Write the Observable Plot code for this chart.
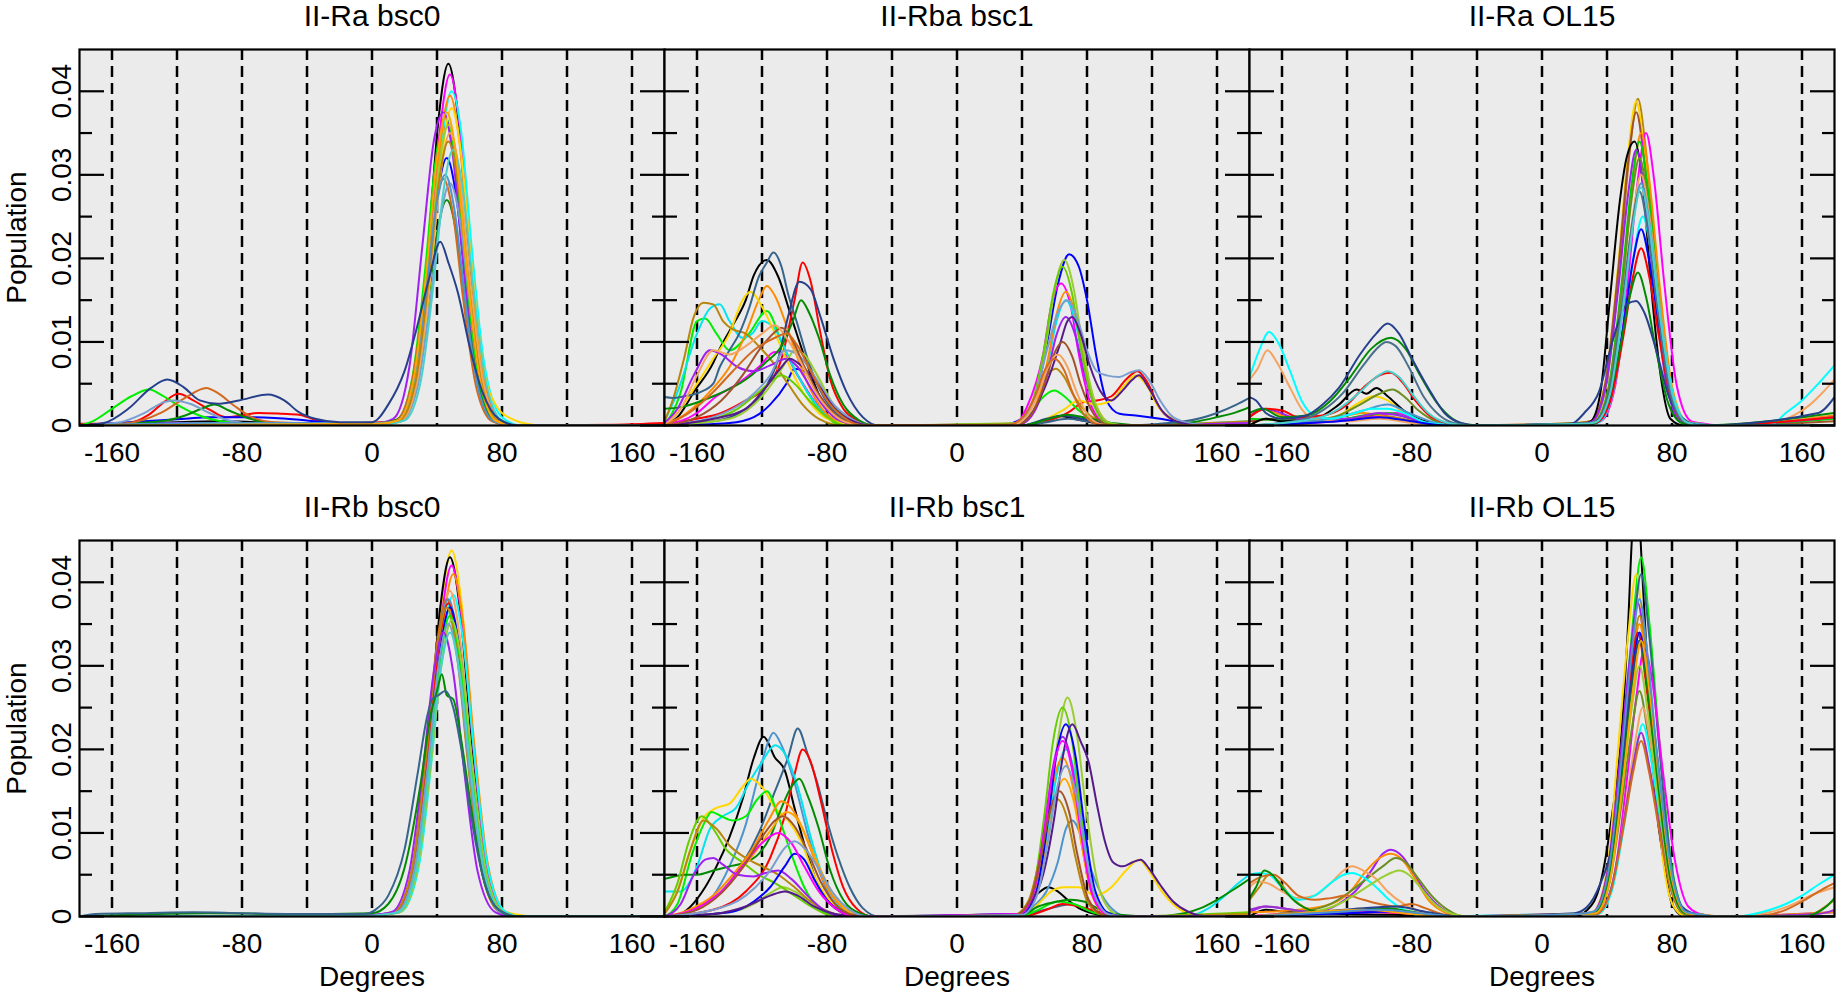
<!DOCTYPE html>
<html>
<head>
<meta charset="utf-8">
<script src="https://cdn.jsdelivr.net/npm/d3@7"></script>
<script src="https://cdn.jsdelivr.net/npm/@observablehq/plot@0.6"></script>
<style>
  html, body { margin: 0; padding: 0; background: #fff; }
  #chart { position: relative; width: 1837px; height: 996px; overflow: hidden; }
  #chart svg { position: absolute; overflow: visible; }
</style>
</head>
<body>
<div id="chart"></div>
<script>
// ---------- axis values ----------
const gridDeg = [-160, -120, -80, -40, 0, 40, 80, 120, 160];
const xTickLabels = [-160, -80, 0, 80, 160];
const yMajor = [0, 0.01, 0.02, 0.03, 0.04];
const yMinor = [0.005, 0.015, 0.025, 0.035];
const titles = ["II-Ra bsc0", "II-Rba bsc1", "II-Ra OL15", "II-Rb bsc0", "II-Rb bsc1", "II-Rb OL15"];

// ---------- series colours (style, kept apart from values) ----------
const raBsc0Colors = ["#000000","#ff0000","#0000ff","#00ee00","#ff00ff","#00ffff","#ff8c00","#a020f0","#008b00","#ffd700","#d2691e","#7a9fcf","#9acd32","#f4a460","#b8860b","#4f94cd","#48d1cc","#ffa500","#27408b"];
const rbaBsc1Colors = ["#000000","#ff0000","#0000ff","#00ee00","#ff00ff","#00e5ee","#ff8c00","#ffd700","#b8860b","#36648b","#27408b","#008b00","#a020f0","#9acd32","#66cd00","#7a9fcf","#551a8b","#a0522d","#f4a460","#d2691e"];
const raOL15Colors = ["#b8860b","#ffd700","#a0522d","#ff00ff","#ff8c00","#00cd00","#000000","#a020f0","#6b8e23","#f4a460","#4f94cd","#00ffff","#0000ff","#ff0000","#008b00","#27408b","#4a708b","#48d1cc"];
const rbBsc0Colors = ["#ffd700","#000000","#ff00ff","#ff8c00","#00ffff","#f4a460","#d2691e","#4f94cd","#ff0000","#0000ff","#b8860b","#00ee00","#9acd32","#7a9fcf","#a020f0","#48d1cc","#008b00","#36648b"];
const rbBsc1Colors = ["#000000","#4f94cd","#36648b","#ff0000","#00e5ee","#ffd700","#00ee00","#008b00","#9acd32","#66cd00","#b8860b","#ff8c00","#ffa500","#a020f0","#0000ff","#551a8b","#ff00ff","#a0522d","#7a9fcf"];
const rbOL15Colors = ["#000000","#00ee00","#ffd700","#36648b","#a020f0","#b8860b","#ff8c00","#ff0000","#ff00ff","#0000ff","#6b8e23","#f4a460","#00ffff","#9932cc","#d2691e","#9acd32","#008b00","#27408b","#ffa500","#4f94cd"];

// ---------- values: [degrees, population] ----------
const raBsc0 = [
 [[-180,0],[-150,.0002],[-120,.0004],[-90,.0005],[-60,.0003],[-20,.0002],[5,.0003],[17,.0008],[27,.0069],[35,.0225],[41,.0368],[47,.0433],[53,.0368],[59,.0225],[67,.0069],[77,.0007],[90,0],[180,0]],
 [[-180,.0002],[-150,.0003],[-138,.0012],[-128,.0028],[-119,.0038],[-110,.003],[-100,.0019],[-90,.001],[-80,.0012],[-70,.0015],[-55,.0014],[-45,.0013],[-35,.0007],[-20,.0003],[5,.0004],[16,.0007],[26,.0058],[34,.0187],[40,.0306],[46,.036],[52,.0306],[58,.0187],[66,.0058],[76,.0006],[90,0],[150,.0001],[180,.0003]],
 [[-180,0],[-140,.0005],[-115,.0008],[-100,.001],[-80,.001],[-60,.0009],[-40,.0006],[-20,.0003],[5,.0003],[16,.0005],[26,.0051],[34,.0166],[40,.0272],[46,.032],[52,.0272],[58,.0166],[66,.0051],[76,.0005],[90,0],[180,0]],
 [[-180,0],[-172,.0005],[-160,.002],[-148,.0035],[-137,.0043],[-130,.0037],[-120,.0025],[-110,.0015],[-100,.0008],[-80,.0003],[-20,.0002],[5,.0003],[15,.0006],[25,.0059],[33,.0192],[39,.0315],[45,.037],[51,.0315],[57,.0192],[65,.0059],[75,.0006],[88,0],[180,0]],
 [[-180,0],[-100,.0002],[-20,.0002],[6,.0003],[18,.0007],[28,.0067],[36,.0218],[42,.0357],[48,.042],[54,.0357],[60,.0218],[68,.0067],[78,.0007],[90,0],[180,0]],
 [[-180,0],[-100,.0001],[10,.0002],[19,.0007],[29,.0064],[37,.0208],[43,.034],[49,.040],[55,.035],[61,.022],[69,.0075],[80,.001],[92,0],[180,0]],
 [[-180,0],[-110,.0002],[5,.0002],[18,.0007],[28,.0063],[36,.0205],[42,.0336],[48,.0395],[54,.0336],[60,.0205],[68,.0063],[78,.0007],[90,0],[180,0]],
 [[-180,0],[-120,.0003],[-60,.0002],[3,.0003],[13,.0008],[23,.007],[31,.0215],[38,.034],[44,.0375],[50,.0319],[56,.0195],[64,.006],[74,.0006],[86,0],[180,0]],
 [[-180,0],[-130,.0005],[-115,.0012],[-105,.002],[-97,.0025],[-88,.0018],[-75,.0008],[-60,.0003],[0,.0002],[14,.0006],[25,.0043],[34,.014],[40,.023],[46,.027],[52,.023],[58,.014],[66,.0043],[76,.0005],[88,0],[180,0]],
 [[-180,0],[-100,.0002],[10,.0002],[19,.0006],[29,.0061],[37,.0198],[43,.0323],[49,.038],[55,.0323],[61,.0198],[69,.0065],[76,.0025],[80,.0015],[86,.0008],[95,.0002],[105,0],[180,0]],
 [[-180,0],[-150,.0003],[-130,.0015],[-115,.0033],[-102,.0045],[-95,.0039],[-85,.0024],[-75,.0011],[-60,.0004],[-20,.0002],[4,.0003],[14,.0005],[24,.0047],[32,.0153],[38,.0251],[44,.0295],[50,.0251],[56,.0153],[64,.0047],[74,.0005],[86,0],[180,0]],
 [[-180,0],[-155,.0004],[-140,.0015],[-128,.0028],[-122,.003],[-112,.0026],[-100,.0015],[-88,.0006],[-70,.0002],[8,.0002],[18,.0005],[28,.0046],[36,.0151],[42,.0247],[48,.029],[54,.0247],[60,.0151],[68,.0046],[78,.0005],[90,0],[180,0]],
 [[-180,0],[5,.0002],[17,.0006],[27,.0058],[35,.0187],[41,.0306],[47,.036],[53,.0306],[59,.0187],[67,.0058],[77,.0006],[90,0],[180,0]],
 [[-180,0],[6,.0002],[18,.0006],[28,.0056],[36,.0182],[42,.0298],[48,.035],[54,.0298],[60,.0182],[68,.0056],[78,.0006],[90,0],[180,0]],
 [[-180,0],[5,.0002],[17,.0006],[27,.0054],[35,.0177],[41,.0289],[47,.034],[53,.0289],[59,.0177],[67,.0054],[77,.0006],[90,0],[180,0]],
 [[-180,0],[-100,.0003],[4,.0003],[15,.0005],[25,.0048],[33,.0156],[39,.0255],[45,.030],[51,.0255],[57,.0156],[65,.0048],[75,.0005],[88,0],[180,0]],
 [[-180,0],[8,.0002],[20,.0006],[30,.0053],[38,.0172],[44,.0281],[50,.033],[56,.0281],[62,.0172],[70,.0053],[80,.0006],[92,0],[180,0]],
 [[-180,0],[4,.0002],[16,.0006],[26,.006],[34,.0195],[40,.0319],[46,.0375],[52,.0319],[58,.0195],[66,.006],[76,.0006],[88,0],[180,0]],
 [[-180,0],[-165,.0003],[-150,.002],[-136,.0045],[-126,.0055],[-116,.0046],[-106,.003],[-95,.0026],[-82,.003],[-64,.0037],[-54,.003],[-45,.0016],[-35,.0008],[-20,.0004],[0,.0004],[10,.0025],[20,.0065],[28,.012],[35,.0175],[42,.022],[47,.0195],[53,.0158],[60,.0095],[68,.004],[78,.0008],[90,0],[180,0]]
];

const rbaBsc1 = [
 [[-180,.0002],[-172,.001],[-162,.004],[-150,.0075],[-146,.0092],[-138,.012],[-130,.015],[-125,.018],[-117,.0198],[-110,.0178],[-102,.013],[-92,.0072],[-82,.0025],[-72,.0006],[-60,0],[40,0],[55,.0006],[64,.0011],[72,.0008],[85,.0003],[100,0],[180,.0003]],
 [[-180,.0002],[-160,.0008],[-145,.0015],[-130,.003],[-118,.0045],[-108,.008],[-100,.015],[-95,.0195],[-90,.0172],[-84,.011],[-78,.0055],[-70,.002],[-60,.0005],[-50,0],[40,0],[55,.0005],[68,.0015],[78,.0028],[86,.003],[95,.0035],[104,.0055],[111,.0065],[117,.0052],[125,.002],[135,.0005],[150,0],[180,.0002]],
 [[-180,0],[-140,.0003],[-125,.001],[-115,.0025],[-105,.005],[-100,.0068],[-94,.0065],[-86,.004],[-75,.0012],[-60,0],[25,0],[38,.0006],[48,.0032],[56,.0105],[62,.0168],[69,.0205],[75,.019],[80,.015],[86,.008],[92,.003],[100,.0014],[110,.0012],[125,.0008],[140,.0003],[160,0],[180,0]],
 [[-180,0],[-170,.004],[-160,.0125],[-155,.0128],[-148,.011],[-140,.009],[-128,.011],[-117,.0137],[-108,.010],[-98,.006],[-85,.002],[-70,0],[35,0],[45,.0012],[52,.0032],[60,.0042],[66,.0035],[75,.0018],[85,.0005],[95,0],[180,0]],
 [[-180,0],[-160,.0015],[-148,.0035],[-135,.005],[-122,.007],[-112,.0088],[-106,.0085],[-98,.006],[-88,.003],[-78,.001],[-65,0],[36,.0002],[43,.0022],[53,.0085],[58,.0143],[64,.017],[70,.0143],[75,.0085],[83,.0022],[92,.0002],[100,0],[180,0]],
 [[-180,.0005],[-172,.004],[-160,.011],[-152,.014],[-146,.0145],[-140,.0125],[-132,.0105],[-126,.011],[-120,.0125],[-112,.0115],[-102,.0075],[-92,.004],[-82,.0015],[-70,.0003],[-60,0],[39,.0002],[48,.002],[56,.0075],[61,.0123],[67,.015],[73,.0123],[78,.0075],[86,.002],[95,.0002],[105,0],[180,.0005]],
 [[-180,.0002],[-170,.001],[-160,.0025],[-150,.0045],[-140,.007],[-130,.011],[-122,.015],[-117,.0167],[-112,.0155],[-105,.012],[-97,.0075],[-88,.0035],[-78,.001],[-65,0],[39,.0002],[48,.0022],[56,.008],[61,.0131],[67,.016],[73,.0131],[78,.008],[86,.0022],[95,.0002],[105,0],[180,.0002]],
 [[-180,.0003],[-170,.002],[-160,.005],[-150,.008],[-140,.011],[-132,.015],[-127,.016],[-120,.0142],[-112,.011],[-104,.0075],[-95,.004],[-85,.0015],[-72,.0003],[-60,0],[45,0],[55,.0008],[65,.0018],[75,.003],[85,.0025],[95,.003],[103,.0048],[110,.006],[116,.005],[124,.0022],[135,.0006],[150,0],[180,.0003]],
 [[-180,.0005],[-175,.003],[-168,.008],[-162,.013],[-156,.0147],[-150,.0145],[-144,.0125],[-138,.0115],[-130,.011],[-122,.0095],[-113,.0075],[-104,.005],[-95,.0025],[-85,.0008],[-70,0],[35,0],[42,.0012],[50,.0042],[56,.0062],[61,.0068],[66,.0058],[72,.0035],[80,.0015],[90,.0004],[100,0],[180,.0005]],
 [[-180,.0034],[-175,.0033],[-168,.0035],[-158,.004],[-150,.005],[-146,.007],[-140,.009],[-134,.011],[-128,.014],[-122,.0178],[-117,.0195],[-113,.0207],[-108,.019],[-104,.0158],[-98,.012],[-92,.008],[-85,.0045],[-78,.0022],[-70,.0008],[-62,.0002],[-50,0],[40,0],[55,.0004],[68,.0008],[80,.0005],[100,0],[140,.0005],[160,.0015],[172,.0025],[180,.0033]],
 [[-180,0],[-150,.0005],[-130,.002],[-118,.0045],[-110,.008],[-104,.013],[-97,.0172],[-90,.0163],[-84,.013],[-76,.008],[-68,.004],[-58,.001],[-48,0],[40,0],[55,.0008],[65,.0012],[75,.0009],[90,.0003],[110,0],[180,0]],
 [[-180,.002],[-170,.0022],[-150,.0035],[-130,.0055],[-118,.0075],[-108,.0095],[-101,.0125],[-96,.015],[-91,.0135],[-85,.0105],[-78,.006],[-70,.0025],[-60,.0006],[-50,0],[40,0],[55,.0007],[68,.0013],[80,.0009],[95,.0003],[120,0],[145,.0004],[160,.001],[172,.0016],[180,.0022]],
 [[-180,.0003],[-172,.002],[-162,.006],[-152,.009],[-145,.0085],[-135,.007],[-125,.0065],[-115,.0072],[-105,.008],[-98,.007],[-90,.0045],[-80,.0018],[-68,.0003],[-55,0],[39,.0002],[48,.0018],[56,.0065],[61,.0107],[67,.013],[73,.0107],[78,.0065],[86,.0018],[95,.0002],[105,0],[180,.0003]],
 [[-180,0],[-140,.0008],[-125,.0025],[-112,.0055],[-104,.008],[-100,.009],[-94,.0085],[-86,.006],[-76,.0025],[-65,.0006],[-52,0],[38,.0003],[47,.0027],[55,.0099],[60,.0162],[66,.0198],[72,.0162],[77,.0099],[85,.0027],[94,.0003],[104,0],[180,0]],
 [[-180,0],[-150,.0008],[-135,.002],[-122,.004],[-113,.0055],[-108,.006],[-100,.005],[-90,.0028],[-80,.001],[-68,0],[37,.0002],[46,.0026],[54,.0095],[59,.0156],[65,.019],[71,.0156],[76,.0095],[84,.0026],[93,.0002],[103,0],[180,0]],
 [[-180,0],[-150,.001],[-130,.003],[-115,.006],[-106,.009],[-98,.0085],[-88,.006],[-78,.003],[-65,.0008],[-52,0],[30,0],[40,.0008],[48,.0035],[56,.0095],[62,.0135],[68,.015],[74,.0128],[80,.009],[86,.0065],[92,.006],[100,.0058],[106,.0063],[112,.0066],[118,.0055],[125,.003],[133,.001],[145,.0002],[160,0],[180,0]],
 [[-180,0],[-150,.0008],[-130,.002],[-118,.0045],[-108,.007],[-103,.008],[-96,.0072],[-86,.005],[-76,.0022],[-65,.0006],[-52,0],[35,0],[45,.0012],[55,.005],[63,.0095],[68,.0125],[71,.013],[76,.011],[82,.007],[88,.0042],[95,.003],[102,.0042],[108,.0055],[112,.006],[118,.0045],[126,.0018],[135,.0005],[150,0],[180,0]],
 [[-180,0],[-160,.001],[-145,.003],[-132,.006],[-120,.0095],[-112,.0112],[-108,.0117],[-102,.0105],[-95,.0075],[-86,.004],[-76,.0015],[-64,.0002],[-52,0],[37,.0001],[46,.0014],[54,.005],[59,.0082],[65,.010],[71,.0082],[76,.005],[84,.0014],[93,.0001],[103,0],[180,0]],
 [[-180,0],[-170,.002],[-160,.006],[-150,.009],[-140,.0085],[-130,.0095],[-120,.011],[-112,.012],[-105,.0105],[-96,.0075],[-87,.004],[-77,.0015],[-65,.0002],[-55,0],[34,.0001],[43,.0011],[51,.0043],[56,.007],[62,.0085],[68,.007],[73,.0043],[81,.0011],[90,.0001],[100,0],[180,0]],
 [[-180,0],[-165,.0015],[-150,.004],[-138,.0065],[-125,.009],[-112,.0105],[-105,.011],[-98,.0095],[-90,.0065],[-80,.003],[-70,.001],[-58,0],[32,.0001],[41,.0011],[49,.004],[54,.0066],[60,.008],[66,.0066],[71,.004],[79,.0011],[88,.0001],[98,0],[180,0]]
];

const raOL15 = [
 [[-180,0],[-170,.0008],[-150,.0006],[-120,.0008],[-100,.0012],[-80,.0006],[-60,0],[15,0],[23,.0003],[31,.0005],[40,.0053],[48,.0196],[54,.0328],[59,.0391],[64,.0328],[70,.0196],[78,.0053],[87,.0005],[95,.0002],[104,0],[180,0]],
 [[-180,0],[-140,.0003],[-125,.0012],[-112,.0028],[-104,.0035],[-95,.003],[-85,.0015],[-70,.0004],[-50,0],[22,.0003],[30,.0005],[39,.0052],[47,.0194],[53,.0326],[58,.0388],[63,.0326],[69,.0194],[77,.0052],[86,.0005],[94,.0002],[104,0],[180,0]],
 [[-180,.0005],[-160,.0008],[-130,.0006],[-105,.0012],[-85,.0006],[-60,0],[22,.0003],[30,.0005],[39,.0051],[47,.0188],[53,.0315],[58,.0375],[63,.0315],[69,.0188],[77,.0051],[86,.0005],[94,.0002],[104,0],[180,.0005]],
 [[-180,0],[-110,.0008],[-90,.0015],[-75,.0006],[-55,0],[28,.0002],[36,.0005],[45,.0047],[53,.0175],[59,.0294],[64,.035],[69,.0294],[75,.0175],[83,.0047],[92,.0005],[100,.0002],[108,0],[180,0]],
 [[-180,.0012],[-170,.002],[-160,.0012],[-140,.0008],[-120,.0012],[-110,.0015],[-95,.001],[-75,.0003],[-55,0],[25,.0002],[33,.0005],[42,.0047],[50,.0175],[56,.0294],[61,.035],[66,.0294],[72,.0175],[80,.0047],[89,.0005],[97,.0002],[106,0],[180,.0012]],
 [[-180,.0008],[-130,.0005],[-110,.0012],[-95,.0015],[-80,.0008],[-60,0],[24,.0002],[32,.0004],[41,.0046],[49,.017],[55,.0286],[60,.034],[65,.0286],[71,.017],[79,.0046],[88,.0004],[96,.0002],[105,0],[180,.0008]],
 [[-180,0],[-170,.0008],[-160,.0005],[-140,.0008],[-125,.0025],[-114,.0043],[-108,.0038],[-102,.0045],[-95,.0035],[-85,.0018],[-72,.0005],[-55,0],[22,0],[30,.0005],[36,.004],[42,.0155],[48,.027],[52,.032],[57,.034],[62,.029],[67,.017],[73,.006],[79,.0008],[87,0],[180,0]],
 [[-180,.001],[-172,.002],[-165,.0018],[-150,.0008],[-120,.0008],[-100,.0015],[-88,.0012],[-70,.0003],[-55,0],[22,.0002],[30,.0004],[39,.0045],[47,.0165],[53,.0277],[58,.033],[63,.0277],[69,.0165],[77,.0045],[86,.0004],[94,.0002],[103,0],[180,.001]],
 [[-180,0],[-140,.0005],[-125,.0012],[-112,.0025],[-100,.0038],[-92,.0043],[-85,.0035],[-76,.0018],[-65,.0005],[-50,0],[24,.0002],[32,.0004],[41,.0043],[49,.016],[55,.0269],[60,.032],[65,.0269],[71,.016],[79,.0043],[88,.0004],[96,.0002],[105,0],[180,0]],
 [[-180,.0055],[-175,.0068],[-169,.009],[-163,.0075],[-155,.0045],[-148,.002],[-140,.0008],[-120,.0005],[-100,.0008],[-80,.0003],[-50,0],[25,.0002],[33,.0004],[42,.0041],[50,.015],[56,.0252],[61,.030],[66,.0252],[72,.015],[80,.0041],[89,.0004],[97,.0002],[104,0],[140,.0003],[155,.0012],[165,.0025],[172,.0038],[180,.0055]],
 [[-180,0],[-130,.0008],[-110,.0018],[-95,.0025],[-82,.0015],[-65,.0003],[-50,0],[25,.0002],[33,.0004],[42,.0039],[50,.0145],[56,.0244],[61,.029],[66,.0244],[72,.0145],[80,.0039],[89,.0004],[97,.0002],[106,0],[180,0]],
 [[-180,.0058],[-174,.009],[-168,.0112],[-162,.0098],[-155,.0065],[-148,.003],[-140,.0012],[-130,.0008],[-115,.0015],[-105,.002],[-95,.002],[-85,.0015],[-70,.0003],[-50,0],[26,.0002],[34,.0003],[43,.0034],[51,.0125],[57,.021],[62,.025],[67,.021],[73,.0125],[81,.0034],[90,.0003],[100,0],[140,0],[150,.0015],[160,.003],[170,.005],[180,.0072]],
 [[-180,0],[-120,.0006],[-100,.001],[-80,.0005],[-60,0],[25,.0002],[33,.0003],[42,.0032],[50,.0118],[56,.0197],[61,.0235],[66,.0197],[72,.0118],[80,.0032],[89,.0003],[98,0],[180,0]],
 [[-180,.001],[-170,.002],[-160,.0018],[-150,.001],[-135,.0012],[-120,.0025],[-110,.0045],[-100,.006],[-93,.0063],[-86,.0052],[-78,.003],[-68,.001],[-55,.0002],[-40,0],[25,.0002],[33,.0003],[42,.0029],[50,.0106],[56,.0178],[61,.0212],[66,.0178],[72,.0106],[80,.0029],[89,.0003],[98,0],[180,.001]],
 [[-180,.0015],[-172,.002],[-160,.001],[-145,.0012],[-130,.003],[-118,.0058],[-105,.0092],[-93,.0105],[-84,.0092],[-75,.006],[-65,.0028],[-55,.0008],[-45,.0001],[-30,0],[23,.0002],[31,.0002],[40,.0025],[48,.0092],[54,.0154],[59,.0183],[64,.0154],[70,.0092],[78,.0025],[87,.0002],[95,0],[180,.0015]],
 [[-180,.0034],[-176,.003],[-170,.0015],[-160,.0008],[-145,.0012],[-135,.0025],[-125,.0045],[-112,.0085],[-102,.011],[-95,.0122],[-88,.011],[-80,.008],[-70,.0045],[-60,.0015],[-50,.0003],[-40,0],[18,.0002],[26,.0015],[35,.004],[44,.0105],[52,.0145],[58,.0149],[63,.0135],[71,.0085],[78,.0035],[87,.0008],[97,0],[170,.0015],[180,.0034]],
 [[-180,0],[-150,.0006],[-135,.0018],[-122,.004],[-110,.0072],[-100,.0095],[-96,.010],[-90,.0095],[-82,.007],[-73,.0035],[-63,.0012],[-52,.0002],[-40,0],[24,.0002],[32,.0004],[41,.0038],[49,.014],[55,.0235],[60,.028],[65,.0235],[71,.014],[79,.0038],[88,.0004],[98,0],[180,0]],
 [[-180,0],[-140,.0008],[-125,.002],[-112,.004],[-102,.0058],[-95,.0065],[-88,.0058],[-80,.0038],[-70,.0015],[-58,.0003],[-45,0],[25,.0002],[33,.0004],[42,.0039],[50,.0143],[56,.024],[61,.0285],[66,.024],[72,.0143],[80,.0039],[89,.0004],[98,0],[180,0]]
];

const rbBsc0 = [
 [[-180,0],[0,.0001],[10,.0003],[17,.0007],[28,.007],[36,.0219],[43,.0377],[49,.0438],[55,.0377],[62,.0219],[70,.007],[81,.0007],[90,.0002],[100,0],[180,0]],
 [[-180,0],[0,.0001],[9,.0003],[16,.0006],[27,.0069],[35,.0215],[42,.037],[48,.043],[54,.037],[61,.0215],[69,.0069],[80,.0006],[90,0],[180,0]],
 [[-180,0],[0,.0001],[10,.0003],[17,.0006],[28,.0067],[36,.021],[43,.0361],[49,.042],[55,.0361],[62,.021],[70,.0067],[81,.0006],[91,0],[180,0]],
 [[-180,0],[2,.0001],[11,.0003],[18,.0006],[29,.0066],[37,.0205],[44,.0353],[50,.041],[56,.0353],[63,.0205],[71,.0066],[82,.0006],[92,0],[180,0]],
 [[-180,0],[2,.0001],[11,.0003],[18,.0006],[29,.0062],[37,.0193],[44,.0331],[50,.0385],[56,.0331],[63,.0193],[71,.0062],[82,.0006],[92,0],[180,0]],
 [[-180,0],[0,.0001],[9,.0003],[16,.0006],[27,.0062],[35,.0195],[42,.0335],[48,.039],[54,.0335],[61,.0195],[69,.0062],[80,.0006],[90,0],[180,0]],
 [[-180,0],[-2,.0001],[7,.0003],[14,.0006],[25,.0061],[33,.019],[40,.0327],[46,.038],[52,.0327],[59,.019],[67,.0061],[78,.0006],[88,0],[180,0]],
 [[-180,0],[-1,.0001],[8,.0003],[15,.0006],[26,.0061],[34,.019],[41,.0327],[47,.038],[53,.0327],[60,.019],[68,.0061],[79,.0006],[89,0],[180,0]],
 [[-180,0],[-1,.0001],[8,.0003],[15,.0006],[26,.006],[34,.0188],[41,.0323],[47,.0375],[53,.0323],[60,.0188],[68,.006],[79,.0006],[89,0],[180,0]],
 [[-180,0],[0,.0001],[9,.0003],[16,.0006],[27,.0059],[35,.0185],[42,.0318],[48,.037],[54,.0318],[61,.0185],[69,.0059],[80,.0006],[90,0],[180,0]],
 [[-180,0],[-2,.0001],[7,.0003],[14,.0006],[25,.0059],[33,.0185],[40,.0318],[46,.037],[52,.0318],[59,.0185],[67,.0059],[78,.0006],[88,0],[180,0]],
 [[-180,0],[0,.0001],[9,.0003],[16,.0005],[27,.0058],[35,.018],[42,.031],[48,.036],[54,.031],[61,.018],[69,.0058],[80,.0005],[90,0],[180,0]],
 [[-180,0],[1,.0001],[10,.0003],[17,.0005],[28,.0057],[36,.0178],[43,.0305],[49,.0355],[55,.0305],[62,.0178],[70,.0057],[81,.0005],[91,0],[180,0]],
 [[-180,0],[-1,.0001],[8,.0003],[15,.0005],[26,.0056],[34,.0175],[41,.0301],[47,.035],[53,.0301],[60,.0175],[68,.0056],[79,.0005],[89,0],[180,0]],
 [[-180,0],[-4,.0001],[5,.0003],[12,.0005],[23,.0054],[31,.017],[38,.0292],[44,.034],[50,.0292],[57,.017],[65,.0054],[76,.0005],[86,0],[180,0]],
 [[-180,0],[0,.0001],[9,.0003],[16,.0005],[27,.0054],[35,.017],[42,.0292],[48,.034],[54,.0292],[61,.017],[69,.0054],[80,.0005],[90,0],[180,0]],
 [[-180,0],[-150,.0002],[-100,.0004],[-50,.0003],[0,.0004],[10,.0015],[20,.0058],[30,.016],[36,.024],[40,.027],[43,.029],[46,.0265],[50,.026],[55,.021],[61,.013],[68,.005],[78,.0008],[88,0],[180,0]],
 [[-180,0],[-170,.0003],[-140,.0004],[-110,.0005],[-80,.0004],[-40,.0003],[-5,.0003],[2,.0008],[10,.0025],[20,.008],[28,.017],[34,.024],[37,.026],[41,.0265],[45,.027],[50,.025],[55,.02],[61,.012],[68,.005],[78,.0008],[90,0],[180,0]]
];

const rbBsc1 = [
 [[-180,0],[-170,.0003],[-165,.001],[-155,.0035],[-148,.006],[-140,.0095],[-132,.014],[-125,.019],[-119,.0215],[-112,.019],[-106,.0175],[-100,.013],[-93,.008],[-85,.0035],[-75,.001],[-62,0],[35,0],[42,.001],[50,.0028],[56,.0035],[62,.003],[68,.002],[75,.001],[85,.0003],[95,0],[180,0]],
 [[-180,0],[-165,.0006],[-150,.0025],[-140,.006],[-130,.011],[-122,.017],[-116,.021],[-113,.022],[-108,.0205],[-100,.016],[-92,.01],[-84,.005],[-75,.0015],[-62,.0002],[-50,0],[38,0],[47,.0012],[55,.003],[62,.0065],[67,.0105],[71,.0115],[76,.0098],[81,.0065],[88,.003],[96,.0008],[105,0],[180,0]],
 [[-180,0],[-160,.001],[-145,.003],[-133,.006],[-122,.01],[-112,.015],[-104,.019],[-98,.0225],[-92,.0195],[-86,.016],[-80,.0115],[-73,.007],[-66,.0035],[-58,.001],[-48,0],[38,0],[50,.0006],[62,.0012],[70,.0015],[80,.0008],[95,.0002],[110,0],[180,0]],
 [[-180,0],[-150,.0008],[-130,.003],[-115,.007],[-106,.012],[-100,.017],[-95,.02],[-90,.0185],[-84,.014],[-77,.008],[-70,.0035],[-62,.001],[-52,0],[40,0],[55,.0008],[65,.0015],[75,.0012],[90,.0004],[110,0],[180,0]],
 [[-180,.003],[-170,.003],[-160,.006],[-152,.0105],[-144,.012],[-136,.013],[-128,.016],[-120,.0185],[-112,.0205],[-106,.0195],[-98,.0155],[-90,.0095],[-82,.0045],[-72,.0012],[-60,0],[40,.0003],[49,.0027],[56,.01],[61,.0166],[67,.02],[73,.0166],[78,.01],[85,.0027],[94,.0003],[105,0],[140,0],[155,.001],[165,.0025],[172,.0038],[180,.005]],
 [[-180,.0005],[-172,.003],[-164,.008],[-156,.0118],[-148,.013],[-140,.0135],[-132,.0155],[-127,.0165],[-120,.0155],[-112,.013],[-104,.0115],[-96,.009],[-88,.005],[-78,.0018],[-68,.0004],[-55,0],[40,0],[50,.0015],[58,.003],[66,.0035],[75,.0035],[85,.0025],[95,.0035],[104,.0055],[112,.0068],[118,.0055],[126,.003],[136,.001],[150,0],[180,.0005]],
 [[-180,0],[-172,.0015],[-163,.0075],[-156,.011],[-151,.0125],[-145,.012],[-138,.0115],[-130,.012],[-123,.014],[-117,.015],[-110,.012],[-102,.0075],[-94,.0035],[-85,.001],[-72,0],[38,0],[50,.0008],[62,.0018],[72,.0015],[85,.0004],[100,0],[180,0]],
 [[-180,.0045],[-176,.0047],[-168,.005],[-160,.005],[-150,.0055],[-140,.006],[-130,.0065],[-122,.0075],[-115,.0095],[-108,.013],[-102,.0155],[-97,.0165],[-92,.0145],[-85,.0105],[-78,.0055],[-70,.002],[-60,.0004],[-50,0],[38,0],[50,.0012],[62,.0018],[70,.002],[78,.0018],[88,.0008],[100,.0002],[120,0],[140,.0004],[150,.001],[160,.002],[170,.0032],[180,.0045]],
 [[-180,0],[-140,.0005],[-125,.0015],[-115,.0028],[-107,.0035],[-100,.003],[-92,.002],[-82,.0008],[-70,0],[36,.0002],[44,.0015],[50,.0045],[57,.013],[62,.021],[68,.0262],[74,.0215],[79,.0135],[86,.0045],[94,.0008],[102,0],[180,0]],
 [[-180,.0005],[-172,.004],[-165,.009],[-157,.012],[-150,.0105],[-142,.008],[-132,.0065],[-122,.005],[-112,.004],[-100,.0025],[-88,.001],[-75,0],[38,.0003],[47,.0034],[54,.0125],[59,.0208],[65,.025],[71,.0208],[76,.0125],[83,.0034],[92,.0003],[102,0],[180,.0005]],
 [[-180,.0003],[-172,.003],[-164,.008],[-156,.0115],[-148,.0105],[-140,.0085],[-130,.007],[-120,.006],[-110,.005],[-100,.0035],[-90,.0018],[-78,.0005],[-65,0],[35,.0002],[44,.0019],[51,.007],[56,.0116],[62,.014],[68,.0116],[73,.007],[80,.0019],[89,.0002],[100,0],[180,.0003]],
 [[-180,0],[-165,.0008],[-150,.0025],[-138,.005],[-126,.008],[-116,.0115],[-108,.0138],[-102,.013],[-95,.0105],[-88,.007],[-80,.0035],[-70,.001],[-58,0],[38,.0002],[47,.0026],[54,.0095],[59,.0158],[65,.019],[71,.0158],[76,.0095],[83,.0026],[92,.0002],[102,0],[180,0]],
 [[-180,0],[-165,.0006],[-150,.002],[-138,.0045],[-125,.0075],[-114,.0105],[-105,.0125],[-99,.0118],[-92,.0092],[-85,.006],[-77,.003],[-68,.0008],[-56,0],[39,.0002],[48,.0022],[55,.0083],[60,.0137],[66,.0165],[72,.0137],[77,.0083],[84,.0022],[93,.0002],[103,0],[180,0]],
 [[-180,0],[-170,.0015],[-162,.005],[-155,.0068],[-150,.007],[-144,.0062],[-135,.005],[-125,.0048],[-118,.0052],[-110,.0055],[-102,.0045],[-92,.0025],[-82,.0008],[-70,0],[38,.0003],[47,.0029],[54,.0108],[59,.0178],[65,.0215],[71,.0178],[76,.0108],[83,.0029],[92,.0003],[102,0],[180,0]],
 [[-180,0],[-140,.0005],[-125,.0018],[-115,.0035],[-106,.006],[-100,.0075],[-94,.0068],[-88,.0045],[-80,.002],[-70,.0005],[-60,0],[40,.0003],[49,.0031],[56,.0115],[61,.0191],[67,.023],[73,.0191],[78,.0115],[85,.0031],[94,.0003],[104,0],[180,0]],
 [[-180,0],[-150,.0003],[-130,.0012],[-115,.0025],[-106,.003],[-98,.0025],[-88,.0012],[-75,.0003],[-60,0],[35,0],[45,.0015],[53,.005],[60,.012],[65,.019],[71,.023],[76,.021],[81,.0185],[86,.0135],[91,.009],[96,.0065],[102,.006],[108,.0065],[113,.0068],[118,.0058],[125,.0038],[133,.0018],[142,.0006],[155,0],[180,0]],
 [[-180,0],[-160,.001],[-145,.003],[-132,.006],[-120,.0088],[-110,.010],[-102,.0088],[-94,.006],[-85,.003],[-75,.001],[-62,0],[38,.0003],[47,.0028],[54,.0105],[59,.0174],[65,.021],[71,.0174],[76,.0105],[83,.0028],[92,.0003],[102,0],[180,0]],
 [[-180,0],[-160,.0008],[-145,.0028],[-132,.0058],[-120,.0095],[-112,.0115],[-107,.012],[-100,.0108],[-92,.0078],[-84,.0042],[-75,.0015],[-64,.0002],[-52,0],[36,.0002],[45,.002],[52,.0075],[57,.0125],[63,.015],[69,.0125],[74,.0075],[81,.002],[90,.0002],[100,0],[180,0]],
 [[-180,0],[-150,.0008],[-130,.0025],[-115,.0055],[-106,.0082],[-100,.009],[-94,.0082],[-86,.006],[-77,.003],[-66,.0008],[-54,0],[40,.0002],[49,.0024],[56,.009],[61,.0149],[67,.018],[73,.0149],[78,.009],[85,.0024],[94,.0002],[104,0],[180,0]]
];

const rbOL15 = [
 [[-180,0],[-170,.0008],[-160,.0006],[-120,.0003],[-90,.0002],[-60,0],[20,0],[28,.0008],[36,.004],[43,.012],[49,.022],[53,.035],[56,.047],[59,.049],[62,.04],[66,.026],[70,.014],[75,.0065],[80,.0015],[88,0],[180,0]],
 [[-180,0],[-120,.0005],[-90,.0008],[-60,0],[23,.0003],[33,.0005],[42,.0058],[50,.0215],[56,.0353],[61,.043],[66,.0353],[72,.0215],[80,.0058],[89,.0005],[99,.0002],[108,0],[180,0]],
 [[-180,0],[-110,.0008],[-80,.0004],[-60,0],[23,.0003],[31,.0005],[40,.0055],[47,.0205],[53,.0336],[58,.041],[63,.032],[69,.018],[75,.006],[81,.0012],[89,0],[180,0]],
 [[-180,0],[-130,.0006],[-100,.001],[-75,.0004],[-55,0],[23,.0003],[33,.0005],[42,.0055],[50,.0205],[56,.0336],[61,.041],[66,.0336],[72,.0205],[80,.0055],[89,.0005],[99,.0002],[108,0],[180,0]],
 [[-180,.0005],[-170,.0012],[-160,.001],[-140,.0005],[-125,.0015],[-115,.003],[-105,.0055],[-98,.0075],[-93,.008],[-86,.0072],[-80,.0055],[-72,.003],[-62,.001],[-50,0],[21,.0003],[31,.0005],[40,.0051],[48,.0188],[54,.0308],[59,.0375],[64,.0308],[70,.0188],[78,.0051],[87,.0005],[97,.0002],[106,0],[180,.0005]],
 [[-180,.002],[-174,.0035],[-168,.005],[-162,.0042],[-155,.0025],[-145,.001],[-130,.0005],[-110,.0006],[-85,.0004],[-60,0],[22,.0003],[32,.0004],[41,.0049],[49,.018],[55,.0295],[60,.036],[65,.0295],[71,.018],[79,.0049],[88,.0004],[98,.0002],[107,0],[160,0],[180,.002]],
 [[-180,.0005],[-150,.0008],[-130,.0015],[-118,.003],[-108,.0055],[-100,.007],[-93,.0075],[-86,.0068],[-78,.0045],[-70,.002],[-60,.0005],[-50,0],[22,.0003],[32,.0004],[41,.0047],[49,.0175],[55,.0287],[60,.035],[65,.0287],[71,.0175],[79,.0047],[88,.0004],[98,.0002],[107,0],[180,.0005]],
 [[-180,0],[-150,.0004],[-110,.0006],[-80,.0003],[-60,0],[21,.0003],[31,.0004],[40,.0046],[48,.017],[54,.0279],[59,.034],[64,.0279],[70,.017],[78,.0046],[87,.0004],[97,.0002],[106,0],[180,0]],
 [[-180,0],[-150,.0004],[-100,.0005],[-70,.0002],[-50,0],[25,.0003],[35,.0004],[44,.0043],[52,.016],[58,.0262],[63,.032],[68,.028],[74,.018],[82,.0065],[90,.0012],[99,.0002],[108,0],[180,0]],
 [[-180,0],[-120,.0004],[-90,.0006],[-60,0],[22,.0003],[32,.0004],[41,.0046],[49,.017],[55,.0279],[60,.034],[65,.0279],[71,.017],[79,.0046],[88,.0004],[98,.0002],[107,0],[180,0]],
 [[-180,0],[-150,.0005],[-130,.0015],[-118,.003],[-108,.0045],[-98,.006],[-90,.007],[-84,.0065],[-76,.0045],[-68,.0025],[-58,.0008],[-48,0],[22,.0003],[32,.0003],[41,.0036],[49,.0135],[55,.0221],[60,.027],[65,.0221],[71,.0135],[79,.0036],[88,.0003],[98,.0002],[107,0],[180,0]],
 [[-180,.0035],[-175,.0042],[-169,.004],[-160,.003],[-150,.0022],[-140,.0025],[-130,.004],[-122,.0055],[-117,.006],[-110,.0055],[-102,.0045],[-95,.003],[-85,.0015],[-72,.0004],[-60,0],[24,.0003],[34,.0003],[43,.0034],[51,.0125],[57,.0205],[62,.025],[67,.0205],[73,.0125],[81,.0034],[90,.0003],[100,.0002],[110,0],[120,0],[140,.0005],[155,.0015],[165,.0025],[172,.003],[180,.0035]],
 [[-180,.005],[-174,.0052],[-168,.005],[-160,.0035],[-150,.002],[-140,.0025],[-130,.004],[-122,.005],[-117,.0052],[-110,.0047],[-102,.0035],[-94,.002],[-84,.0007],[-72,0],[24,.0003],[34,.0003],[43,.0031],[51,.0115],[57,.0189],[62,.023],[67,.0189],[73,.0115],[81,.0031],[90,.0003],[100,0],[120,0],[135,.0005],[150,.0015],[160,.0025],[170,.0038],[180,.005]],
 [[-180,.0008],[-170,.0012],[-160,.001],[-140,.0005],[-100,.0008],[-80,.0004],[-60,0],[23,.0003],[33,.0003],[42,.003],[50,.011],[56,.018],[61,.022],[66,.018],[72,.011],[80,.003],[89,.0003],[99,0],[170,.0003],[180,.0008]],
 [[-180,.004],[-172,.0048],[-165,.005],[-158,.004],[-150,.0025],[-140,.002],[-130,.0022],[-120,.0025],[-110,.002],[-100,.0015],[-90,.0012],[-80,.0015],[-72,.001],[-60,.0002],[-50,0],[23,.0003],[33,.0003],[42,.0028],[50,.0105],[56,.0172],[61,.021],[66,.0172],[72,.0105],[80,.0028],[89,.0003],[99,0],[130,0],[150,.0008],[162,.002],[172,.0032],[180,.004]],
 [[-180,0],[-140,.0006],[-125,.0015],[-112,.003],[-100,.0045],[-92,.0053],[-88,.0055],[-82,.005],[-75,.0035],[-66,.0015],[-55,.0003],[-45,0],[22,.0003],[32,.0004],[41,.0041],[49,.015],[55,.0246],[60,.030],[65,.0246],[71,.015],[79,.0041],[88,.0004],[98,.0002],[107,0],[180,0]],
 [[-180,.0022],[-176,.0035],[-171,.0055],[-166,.005],[-160,.0035],[-150,.0015],[-135,.0005],[-110,.0008],[-95,.001],[-80,.0005],[-60,0],[22,.0003],[32,.0004],[41,.0045],[49,.0165],[55,.0271],[60,.033],[65,.0271],[71,.0165],[79,.0045],[88,.0004],[98,.0002],[107,0],[160,0],[175,.0012],[180,.0022]],
 [[-180,0],[-140,.0005],[-110,.001],[-90,.0012],[-70,.0005],[-50,0],[20,.0004],[28,.0012],[36,.004],[43,.0085],[49,.018],[55,.028],[60,.033],[65,.0285],[71,.019],[78,.007],[86,.0012],[96,.0002],[106,0],[180,0]],
 [[-180,0],[-150,.0004],[-110,.0008],[-80,.0003],[-60,0],[23,.0003],[33,.0004],[42,.0045],[50,.0165],[56,.0271],[61,.033],[66,.0271],[72,.0165],[80,.0045],[89,.0004],[99,.0002],[108,0],[180,0]],
 [[-180,0],[-130,.0005],[-100,.0008],[-70,.0003],[-50,0],[22,.0003],[32,.0006],[41,.0055],[49,.019],[55,.0312],[60,.038],[65,.0312],[71,.019],[80,.0051],[89,.0005],[99,.0002],[108,0],[180,0]]
];

// ---------- layout ----------
const FRAME_W = 585, FRAME_H = 376;
const M_LEFT = 79, M_RIGHT = 3, M_TOP = 49, M_BOTTOM = 80;
const colLeft = [79, 664, 1249];
const rowTop = [49, 540];
const FONT = "'Liberation Sans', Arial, Helvetica, sans-serif";

const panelSeries = [raBsc0, rbaBsc1, raOL15, rbBsc0, rbBsc1, rbOL15];
const panelColors = [raBsc0Colors, rbaBsc1Colors, raOL15Colors, rbBsc0Colors, rbBsc1Colors, rbOL15Colors];

const chart = document.getElementById("chart");

panelSeries.forEach((series, i) => {
  const col = i % 3, row = Math.floor(i / 3);
  const colors = panelColors[i];
  const table = series.flatMap((pts, s) => pts.map(([x, y]) => ({x, y, s})));

  const marks = [
    Plot.frame({fill: "#ebebeb", stroke: "none"}),
    Plot.ruleX(gridDeg, {stroke: "#000", strokeWidth: 2.5, strokeDasharray: "11,6"}),
    Plot.line(table, {x: "x", y: "y", z: "s", stroke: "s", strokeWidth: 2, curve: "monotone-x", clip: true}),
    // inward ticks, left and right edges
    Plot.axisY(yMajor, {anchor: "left", tickSize: 25, dx: 25, tickFormat: () => "", label: null, strokeWidth: 2.2}),
    Plot.axisY(yMinor, {anchor: "left", tickSize: 13, dx: 13, tickFormat: () => "", label: null, strokeWidth: 2.2}),
    Plot.axisY(yMajor, {anchor: "right", tickSize: 25, dx: -25, tickFormat: () => "", label: null, strokeWidth: 2.2}),
    Plot.axisY(yMinor, {anchor: "right", tickSize: 13, dx: -13, tickFormat: () => "", label: null, strokeWidth: 2.2}),
    Plot.frame({stroke: "#000", strokeWidth: 2.2}),
    Plot.axisX(xTickLabels, {anchor: "bottom", tickSize: 0, tickPadding: 17, fontSize: 28, tickFormat: d => String(d), label: null}),
    Plot.text([titles[i]], {frameAnchor: "top", dy: -24, lineAnchor: "bottom", fontSize: 30, fill: "#000"})
  ];
  if (col === 0) {
    marks.push(
      Plot.axisY(yMajor, {anchor: "left", tickSize: 0, tickPadding: 9, rotate: -90, textAnchor: "middle", lineAnchor: "bottom", fontSize: 28, tickFormat: d => String(d), label: null}),
      Plot.text(["Population"], {frameAnchor: "left", dx: -54, rotate: -90, textAnchor: "middle", lineAnchor: "bottom", fontSize: 28, fill: "#000"})
    );
  }
  if (row === 1) {
    marks.push(Plot.text(["Degrees"], {frameAnchor: "bottom", dy: 69, lineAnchor: "bottom", fontSize: 28, fill: "#000"}));
  }

  const svg = Plot.plot({
    width: M_LEFT + FRAME_W + M_RIGHT,
    height: M_TOP + FRAME_H + M_BOTTOM,
    marginLeft: M_LEFT, marginRight: M_RIGHT, marginTop: M_TOP, marginBottom: M_BOTTOM,
    x: {domain: [-180, 180]},
    y: {domain: [0, 0.045]},
    color: {type: "ordinal", domain: colors.map((_, k) => k), range: colors},
    style: {fontFamily: FONT, fontSize: "28px", color: "#000", background: "transparent", overflow: "visible"},
    marks
  });
  svg.style.left = (colLeft[col] - M_LEFT) + "px";
  svg.style.top = (rowTop[row] - M_TOP) + "px";
  chart.appendChild(svg);
});
</script>
</body>
</html>
